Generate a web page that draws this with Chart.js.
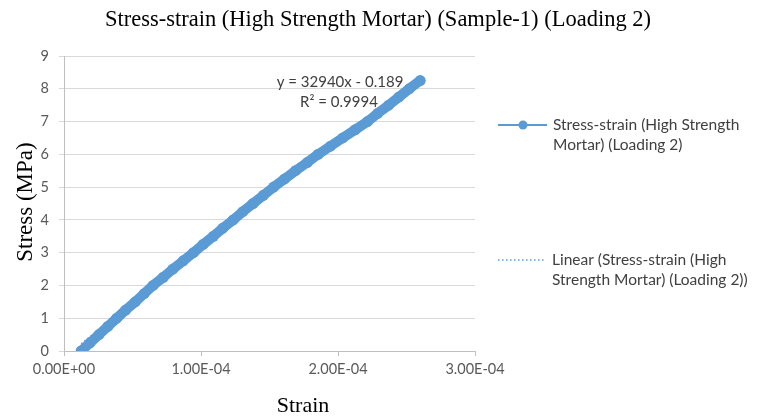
<!DOCTYPE html>
<html>
<head>
<meta charset="utf-8">
<script src="https://cdn.jsdelivr.net/npm/chart.js@4.4.1/dist/chart.umd.min.js"></script>
<style>
  body { margin: 0; background: #fff; }
  canvas { display: block; }
</style>
</head>
<body>
<canvas id="chart" width="758" height="419"></canvas>
<script>
// measured stress-strain points, loading 2
const strain = [
  1.25e-5, 1.9e-5, 2.55e-5, 3.2e-5, 3.85e-5, 4.5e-5, 5.2e-5, 5.85e-5, 6.5e-5,
  7.25e-5, 7.95e-5, 8.7e-5, 9.45e-5, 1.015e-4, 1.09e-4, 1.16e-4, 1.235e-4,
  1.305e-4, 1.38e-4, 1.455e-4, 1.53e-4, 1.61e-4, 1.69e-4, 1.775e-4, 1.855e-4,
  1.945e-4, 2.035e-4, 2.125e-4, 2.215e-4, 2.29e-4, 2.37e-4, 2.445e-4, 2.52e-4,
  2.6e-4
];
const stress = [
  0, 0.25, 0.5, 0.75, 1, 1.25, 1.5, 1.75, 2,
  2.25, 2.5, 2.75, 3, 3.25, 3.5, 3.75, 4,
  4.25, 4.5, 4.75, 5, 5.25, 5.5, 5.75, 6,
  6.25, 6.5, 6.75, 7, 7.25, 7.5, 7.75, 8,
  8.25
];

// linear trendline
const slope = 32940;
const intercept = -0.189;
const rSquared = 0.9994;

const xTicks = [0, 1e-4, 2e-4, 3e-4];
const yTicks = [0, 1, 2, 3, 4, 5, 6, 7, 8, 9];

const blue = "#5b9bd5";
const textColor = "#404040";

const points = strain.map((s, i) => ({ x: s, y: stress[i] }));
const xMin = Math.min(...strain);
const xMax = Math.max(...strain);
const trend = [xMin, xMax].map((x) => ({ x, y: slope * x + intercept }));

function sci(v) {
  if (Math.abs(v) < 1e-12) return "0.00E+00";
  const e = Math.floor(Math.log10(Math.abs(v)) + 1e-9);
  const m = v / Math.pow(10, e);
  return m.toFixed(2) + "E" + (e < 0 ? "-" : "+") + String(Math.abs(e)).padStart(2, "0");
}

// titles, equation and legend drawn by hand
const decorations = {
  id: "decorations",
  afterDraw(chart) {
    const ctx = chart.ctx;
    ctx.save();
    ctx.fillStyle = "#000";
    ctx.textAlign = "center";
    ctx.textBaseline = "middle";

    ctx.font = "22.5px 'Liberation Serif'";
    ctx.fillText("Stress-strain (High Strength Mortar) (Sample-1) (Loading 2)", 378, 20);
    ctx.font = "22px 'Liberation Serif'";
    ctx.fillText("Strain", 303, 406);

    ctx.save();
    ctx.translate(26, 202);
    ctx.rotate(-Math.PI / 2);
    ctx.font = "23px 'Liberation Serif'";
    ctx.fillText("Stress (MPa)", 0, 0);
    ctx.restore();

    ctx.fillStyle = textColor;
    ctx.font = "15px Lato";
    ctx.fillText("y = " + slope + "x - " + Math.abs(intercept), 340, 82);
    ctx.fillText("R\u00b2 = " + rSquared, 339, 102);

    // legend
    ctx.textAlign = "left";
    ctx.strokeStyle = blue;
    ctx.lineWidth = 2;
    ctx.beginPath();
    ctx.moveTo(498, 125);
    ctx.lineTo(547, 125);
    ctx.stroke();
    ctx.fillStyle = blue;
    ctx.beginPath();
    ctx.arc(523, 125, 4.5, 0, Math.PI * 2);
    ctx.fill();

    ctx.lineWidth = 1.5;
    ctx.setLineDash([1.5, 2.5]);
    ctx.beginPath();
    ctx.moveTo(498, 260);
    ctx.lineTo(545, 260);
    ctx.stroke();
    ctx.setLineDash([]);

    ctx.fillStyle = textColor;
    ctx.font = "15.5px Lato";
    ctx.fillText("Stress-strain (High Strength", 553, 125);
    ctx.fillText("Mortar) (Loading 2)", 553, 145);
    ctx.fillText("Linear (Stress-strain (High", 552, 260);
    ctx.fillText("Strength Mortar) (Loading 2))", 552, 280);
    ctx.restore();
  },
};

new Chart(document.getElementById("chart"), {
  type: "scatter",
  data: {
    datasets: [
      {
        label: "Stress-strain (High Strength Mortar) (Loading 2)",
        data: points,
        showLine: true,
        borderColor: blue,
        backgroundColor: blue,
        borderWidth: 10,
        borderCapStyle: "round",
        borderJoinStyle: "round",
        pointRadius: 5.5,
        pointBorderWidth: 0,
        order: 1,
      },
      {
        label: "Linear (Stress-strain (High Strength Mortar) (Loading 2))",
        data: trend,
        showLine: true,
        borderColor: blue,
        borderWidth: 1.5,
        borderDash: [1.5, 2.5],
        pointRadius: 0,
        order: 2,
      },
    ],
  },
  options: {
    responsive: false,
    animation: false,
    layout: { padding: { top: 56, right: 283, left: 0, bottom: 0 } },
    plugins: {
      legend: { display: false },
      title: { display: false },
      tooltip: { enabled: false },
    },
    scales: {
      x: {
        type: "linear",
        min: 0,
        max: 3e-4,
        afterFit: (s) => { s.height = 68; },
        afterBuildTicks: (s) => { s.ticks = xTicks.map((v) => ({ value: v })); },
        ticks: {
          color: "#595959",
          font: { family: "Lato", size: 14.5 },
          padding: 5,
          maxRotation: 0,
          callback: (v) => sci(v),
        },
        grid: {
          drawOnChartArea: false,
          color: "#bfbfbf",
          tickLength: 5,
        },
        border: { color: "#bfbfbf" },
      },
      y: {
        min: 0,
        max: 9,
        afterFit: (s) => { s.width = 64; },
        afterBuildTicks: (s) => { s.ticks = yTicks.map((v) => ({ value: v })); },
        ticks: {
          color: "#595959",
          font: { family: "Lato", size: 14.5 },
          padding: 10,
        },
        grid: {
          color: "#d9d9d9",
          tickLength: 5,
        },
        border: { color: "#bfbfbf" },
      },
    },
  },
  plugins: [decorations],
});
</script>
</body>
</html>
